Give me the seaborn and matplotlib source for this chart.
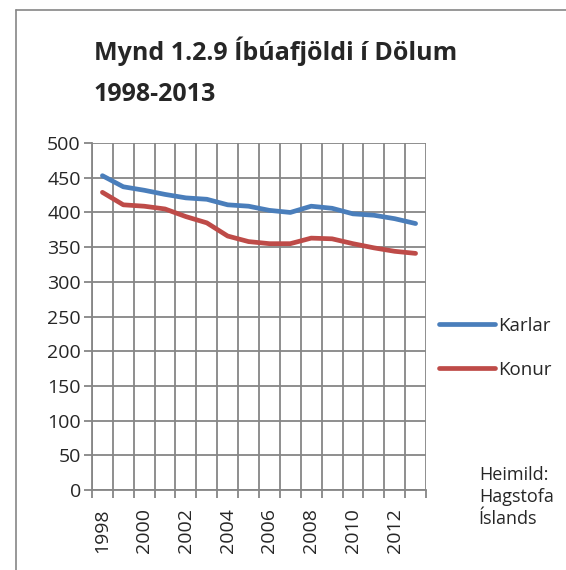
import matplotlib
matplotlib.use("Agg")
import matplotlib.pyplot as plt
from matplotlib.lines import Line2D
import pandas as pd
import seaborn as sns

# data
years = list(range(1998, 2014))
karlar = [453, 437, 432, 426, 421, 419, 411, 409, 403, 400, 409, 406, 398, 396, 391, 384]
konur = [429, 411, 409, 405, 394, 385, 366, 358, 355, 355, 363, 362, 355, 349, 344, 341]
year_labels = [str(y) for y in years if y % 2 == 0]

df = pd.DataFrame({
    "year": years * 2,
    "value": karlar + konur,
    "series": ["Karlar"] * len(years) + ["Konur"] * len(years),
})

sns.set_theme(style="white")
plt.rcParams["font.family"] = ["Open Sans", "DejaVu Sans"]

fig = plt.figure(figsize=(5.66, 5.70), dpi=100)
ax = fig.add_axes([0.1625, 0.1404, 0.5902, 0.6086])

sns.lineplot(data=df, x="year", y="value", hue="series",
             palette={"Karlar": "#4A7EBB", "Konur": "#BE4B48"},
             linewidth=3.4, ax=ax, legend=True)

ax.set_xlim(years[0] - 0.5, years[-1] + 0.5)
ax.set_ylim(0, 500)
ax.set_yticks(range(0, 501, 50))
ax.set_xticks([y - 0.5 for y in years] + [years[-1] + 0.5])
ax.set_xticklabels([])
ax.set_xticks([int(l) for l in year_labels], minor=True)
ax.set_xticklabels(year_labels, minor=True, rotation=90, fontsize=14)
ax.tick_params(axis="x", which="minor", length=0, pad=13)
ax.tick_params(axis="x", which="major", length=6, width=1.3, color="#868686", direction="out", bottom=True)
ax.tick_params(axis="y", length=6, width=1.3, color="#868686", direction="out", left=True, labelsize=14, pad=2)
ax.grid(True, which="major", color="#868686", linewidth=1.3)
for s in ["top", "right"]:
    ax.spines[s].set_visible(False)
for s in ["left", "bottom"]:
    ax.spines[s].set_color("#868686")
    ax.spines[s].set_linewidth(1.3)
ax.set_xlabel("")
ax.set_ylabel("")

ax.legend(loc="center left", bbox_to_anchor=(1.0, 0.41), frameon=False,
          fontsize=13.5, handlelength=3.0, handletextpad=0.15, labelspacing=1.4,
          borderaxespad=0.3)

fig.text(0.166, 0.91, "Mynd 1.2.9 Íbúafjöldi í Dölum", fontsize=18, fontweight="bold", va="center")
fig.text(0.166, 0.835, "1998-2013", fontsize=18, fontweight="bold", va="center")
fig.text(0.846, 0.128, "Heimild:\nHagstofa\nÍslands", fontsize=13, va="center", linespacing=1.3)

# frame only on top and left, as in the reference crop
fig.add_artist(Line2D([16 / 566, 1.0], [1 - 10 / 570] * 2, transform=fig.transFigure,
                      color="#868686", linewidth=1.2))
fig.add_artist(Line2D([16 / 566] * 2, [0.0, 1 - 10 / 570], transform=fig.transFigure,
                      color="#868686", linewidth=1.2))

fig.savefig("out.png", dpi=100)
